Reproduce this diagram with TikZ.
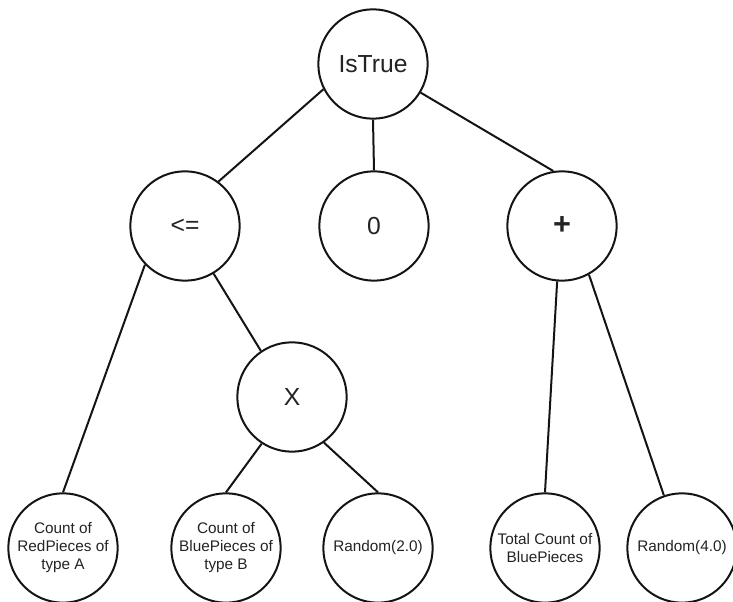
\documentclass[tikz,border=0pt]{standalone}
\usepackage{fontspec}
\setmainfont{Liberation Sans}
\usepackage{xcolor}
\usepackage{tikz}
\definecolor{treeline}{RGB}{20, 20, 20}
\definecolor{treetext}{RGB}{35, 35, 35}

\tikzset{
    opnode/.style={circle, draw=treeline, line width=1.5pt, minimum size=82pt,
        inner sep=0pt, font=\fontsize{18.5}{21}\selectfont, text=treetext},
    leafnode/.style={circle, draw=treeline, line width=1.5pt, minimum size=82pt,
        inner sep=0pt, align=center, font=\fontsize{11.5}{13.5}\selectfont, text=treetext},
    branch/.style={draw=treeline, line width=1.5pt}
}

\begin{document}
\begin{tikzpicture}[x=0.75pt, y=-0.75pt]
\useasboundingbox (0,0) rectangle (733,602);

% Root
\node[opnode] (istrue) at (373,64) {IsTrue};

% Second level
\node[opnode] (leq) at (185,226) {<=};
\node[opnode] (zero) at (374,226) {0};
\node[opnode, font=\fontsize{23}{24}\selectfont\bfseries] (plus) at (562,226) {+};

% Product
\node[opnode] (times) at (292,397) {X};

% Leaves
\node[leafnode] (redA) at (63,548) {Count of\\RedPieces of\\type A};
\node[leafnode] (blueB) at (226,548) {Count of\\BluePieces of\\type B};
\node[leafnode] (rnd2) at (378,548) {Random(2.0)};
\node[leafnode] (totblue) at (545,548) {Total Count of\\BluePieces};
\node[leafnode] (rnd4) at (682,548) {Random(4.0)};

% Branches
\draw[branch] (istrue.207) -- (leq.53);
\draw[branch] (istrue.south) -- (zero.north);
\draw[branch] (istrue.-31) -- (plus.99);
\draw[branch] (leq.224) -- (redA.north);
\draw[branch] (leq.301) -- (times.124);
\draw[branch] (times.237) -- (blueB.north);
\draw[branch] (times.305) -- (rnd2.north);
\draw[branch] (plus.265) -- (totblue.north);
\draw[branch] (plus.299) -- (rnd4.109);
\end{tikzpicture}
\end{document}
